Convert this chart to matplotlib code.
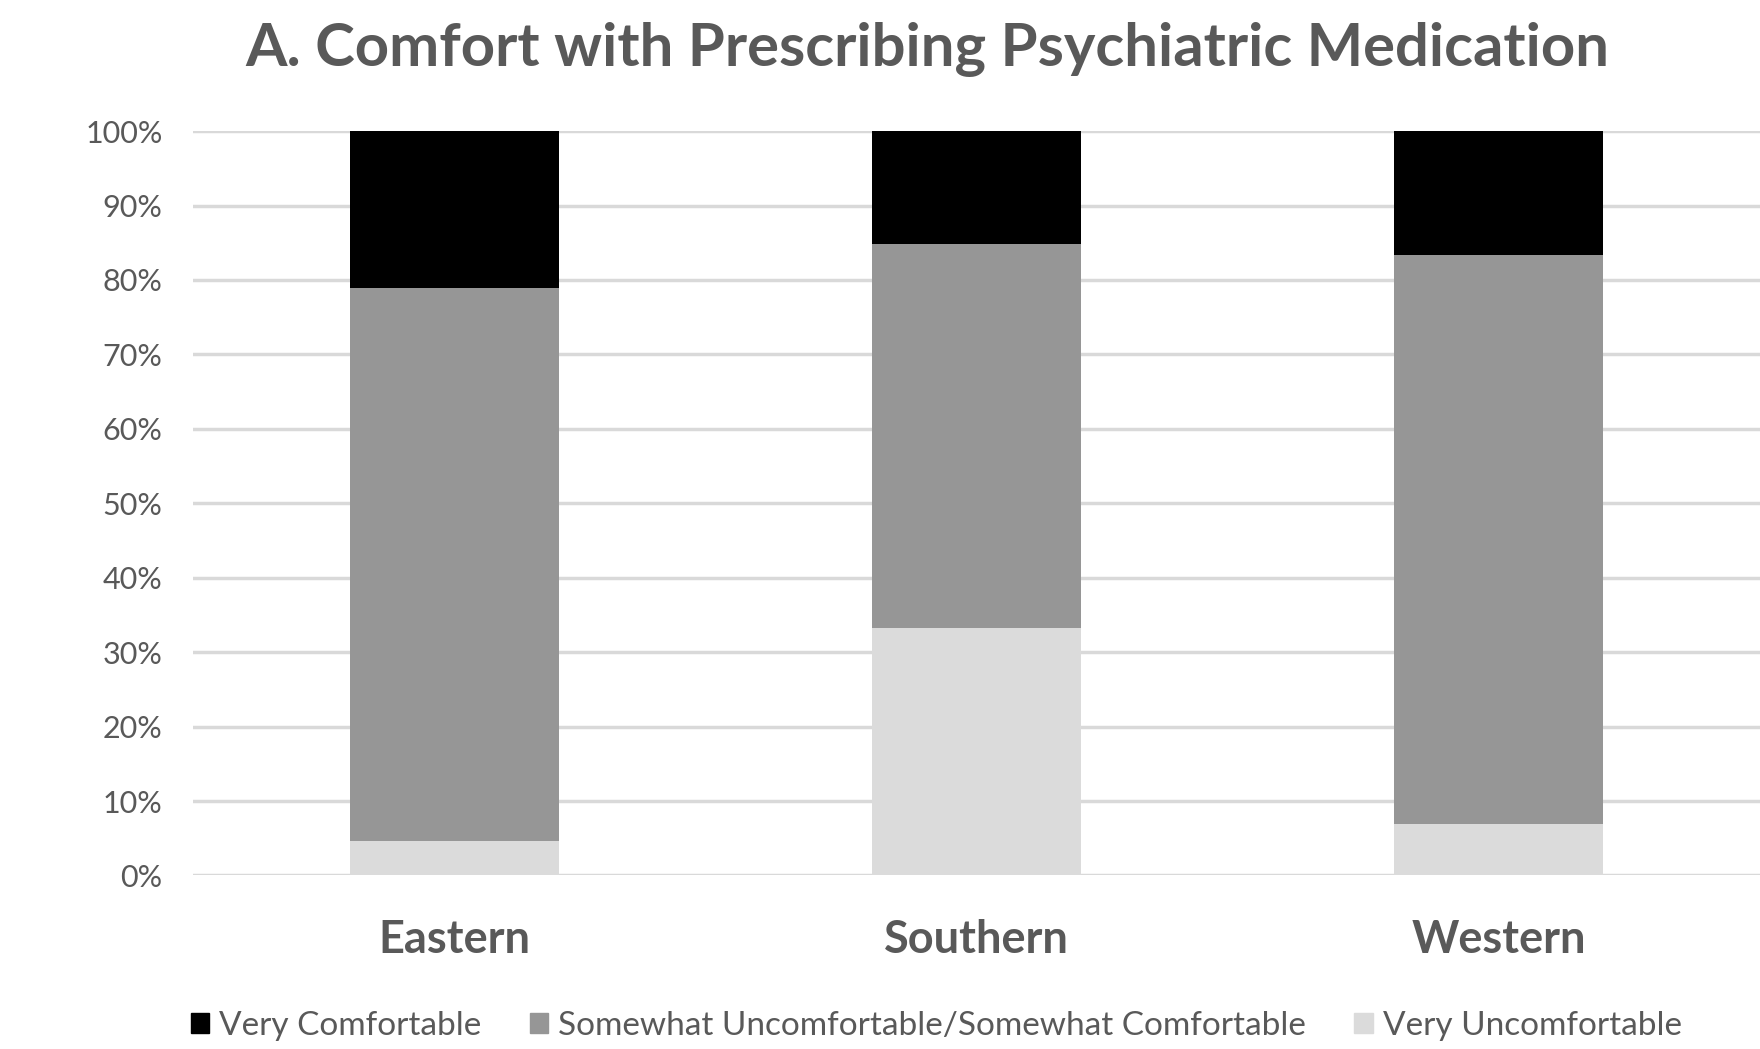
import matplotlib.pyplot as plt
from matplotlib.patches import Patch
from matplotlib.ticker import PercentFormatter

regions = ["Eastern", "Southern", "Western"]
very_uncomf = [0.047, 0.332, 0.069]
somewhat = [0.742, 0.516, 0.765]
very_comf = [0.211, 0.152, 0.166]

series = ["Very Comfortable", "Somewhat Uncomfortable/Somewhat Comfortable", "Very Uncomfortable"]
colors = ["#000000", "#969696", "#dbdbdb"]
txt = "#595959"

plt.rcParams['font.family'] = ['Lato', 'DejaVu Sans']

fig = plt.figure(figsize=(17.6, 10.49), dpi=100)
fig.set_facecolor('white')
ax = fig.add_axes([0.1097, 0.1654, 0.8903, 0.7096])

x = range(len(regions))
w = 0.4
bottom1 = very_uncomf
bottom2 = [a + b for a, b in zip(very_uncomf, somewhat)]
ax.bar(x, very_uncomf, w, color=colors[2], zorder=3)
ax.bar(x, somewhat, w, bottom=bottom1, color=colors[1], zorder=3)
ax.bar(x, very_comf, w, bottom=bottom2, color=colors[0], zorder=3)

ax.set_xlim(-0.5, 2.5)
ax.set_ylim(0, 1)
ax.set_yticks([i / 10 for i in range(11)])
ax.yaxis.set_major_formatter(PercentFormatter(1.0, decimals=0))
ax.grid(axis='y', color='#d9d9d9', linewidth=2.5, zorder=0)
for s in ax.spines.values():
    s.set_visible(False)
ax.tick_params(axis='y', length=0, labelsize=22, labelcolor=txt, pad=22)
ax.tick_params(axis='x', length=0, pad=31)
ax.set_xticks(list(x))
ax.set_xticklabels(regions, fontsize=32.5, fontweight='bold', color=txt)

fig.text(0.527, 0.953, "A. Comfort with Prescribing Psychiatric Medication",
         ha='center', va='center', fontsize=43, fontweight='bold', color=txt)

handles = [Patch(color=c) for c in colors]
fig.legend(handles, series, loc='center', bbox_to_anchor=(0.532, 0.022), ncol=3,
           frameon=False, fontsize=24, labelcolor=txt, handlelength=0.55,
           handleheight=0.55, handletextpad=0.3, columnspacing=1.45)

fig.savefig("out.png", dpi=100, facecolor='white')
